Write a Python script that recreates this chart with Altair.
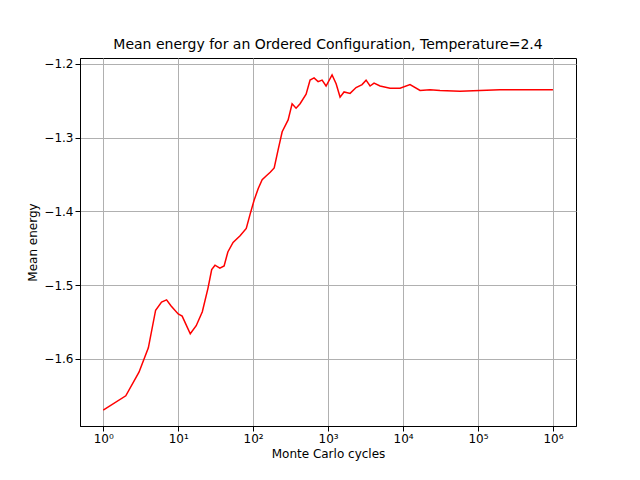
import pandas as pd
import altair as alt

cycles = [1, 2, 3, 4, 5, 6, 7, 8, 10, 11.3, 14.5, 17.4, 21, 25, 28, 31, 36, 41, 46, 54,
          67, 81, 91, 103, 117, 132, 149, 169, 191, 215, 244, 293, 331, 374, 423, 509,
          575, 650, 736, 832, 940, 1130, 1280, 1445, 1633, 1965, 2362, 2840, 3213, 3631,
          4104, 4937, 6708, 9120, 12400, 16870, 22900, 31100, 57500, 106000, 196000,
          363000, 1000000]
energy = [-1.6695, -1.650, -1.618, -1.585, -1.534, -1.523, -1.520, -1.528, -1.539, -1.542,
          -1.566, -1.555, -1.536, -1.504, -1.479, -1.473, -1.477, -1.474, -1.455, -1.442,
          -1.433, -1.423, -1.404, -1.385, -1.369, -1.357, -1.352, -1.347, -1.341, -1.317,
          -1.292, -1.276, -1.254, -1.260, -1.254, -1.241, -1.222, -1.219, -1.224, -1.222,
          -1.230, -1.215, -1.227, -1.245, -1.238, -1.240, -1.232, -1.228, -1.222, -1.230,
          -1.226, -1.230, -1.233, -1.233, -1.228, -1.236, -1.235, -1.236, -1.237, -1.236,
          -1.235, -1.235, -1.235]

d = pd.DataFrame({"cycles": cycles, "energy": energy})

sup = "['⁰','¹','²','³','⁴','⁵','⁶'][round(log(datum.value)/LN10)]"

line = (
    alt.Chart(d, title="Mean energy for an Ordered Configuration, Temperature=2.4")
    .mark_line(color="red", strokeWidth=1.5)
    .encode(
        x=alt.X("cycles:Q", title="Monte Carlo cycles",
                scale=alt.Scale(type="log", domain=[0.49, 2.03e6], nice=False),
                axis=alt.Axis(values=[1, 10, 100, 1000, 10000, 100000, 1000000],
                              labelExpr="'10' + " + sup)),
        y=alt.Y("energy:Q", title="Mean energy",
                scale=alt.Scale(domain=[-1.691, -1.192], nice=False, zero=False),
                axis=alt.Axis(values=[-1.6, -1.5, -1.4, -1.3, -1.2], format=".1f")),
    )
)

chart = line.properties(
    width=496, height=368,
    autosize=alt.AutoSizeParams(type="none"),
    padding={"left": 72, "top": 50, "right": 56, "bottom": 46},
).configure_axis(
    gridColor="#b0b0b0", gridOpacity=1, domainColor="black", tickColor="black",
    labelColor="black", titleColor="black", labelFontSize=12, titleFontSize=12,
    titleFontWeight="normal", labelFont="DejaVu Sans", titleFont="DejaVu Sans",
).configure_title(fontSize=14, fontWeight="normal", font="DejaVu Sans", offset=6).configure_view(
    stroke="black"
)

chart.save("out.html", embed_options={"renderer": "svg", "actions": False})
